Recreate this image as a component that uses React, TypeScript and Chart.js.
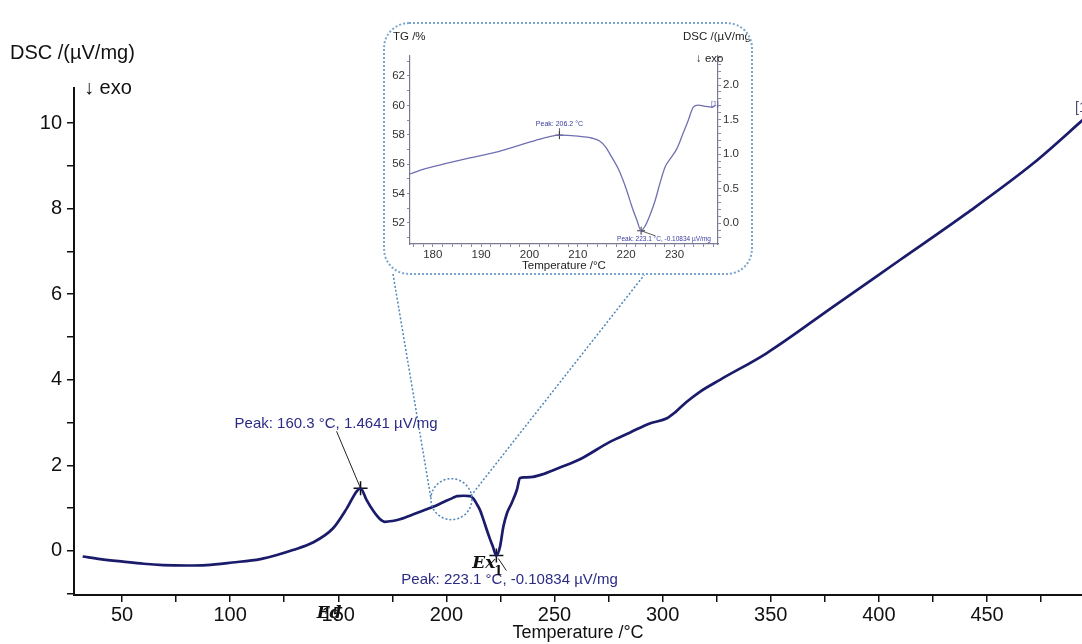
import React, { useEffect, useRef } from 'react';
import { Chart, registerables } from 'chart.js';

Chart.register(...registerables);

const FONT = "Arial, 'Liberation Sans', Helvetica, sans-serif";
const SERIF = "'DejaVu Serif', 'Liberation Serif', serif";

// ---- main DSC curve ----
const mainTemps = [31.8, 40, 50.5, 60, 69, 80, 89, 101, 114, 122, 129, 138, 147.6, 154, 158.6, 160.3, 163, 166, 169, 171.6, 175, 178.5, 186, 193.8, 199, 203, 205, 208, 211, 212.5, 214, 215.5, 217, 218.7, 220, 221.5, 223.1, 224.8, 226.3, 228, 230.2, 232.6, 234, 236, 240, 245, 252.5, 262, 275.6, 285, 294, 302, 306, 311, 317.2, 326.5, 348, 378.9, 409.7, 440.5, 471.4, 496];
const mainDsc = [-0.13, -0.19, -0.25, -0.3, -0.33, -0.34, -0.33, -0.27, -0.19, -0.09, 0.02, 0.19, 0.53, 1.0, 1.4, 1.4641, 1.2, 0.95, 0.76, 0.68, 0.7, 0.74, 0.88, 1.03, 1.15, 1.24, 1.28, 1.29, 1.28, 1.22, 1.1, 0.96, 0.75, 0.49, 0.3, 0.1, -0.10834, 0.1, 0.56, 0.88, 1.12, 1.43, 1.7, 1.72, 1.73, 1.8, 1.95, 2.15, 2.55, 2.77, 2.98, 3.1, 3.25, 3.48, 3.72, 4.0, 4.62, 5.71, 6.8, 7.89, 9.06, 10.15];

const xMajorTicks = [50, 100, 150, 200, 250, 300, 350, 400, 450];
const xMinorTicks = [75, 125, 175, 225, 275, 325, 375, 425, 475];
const yMajorTicks = [0, 2, 4, 6, 8, 10];
const yMinorTicks = [-1, 1, 3, 5, 7, 9];

const peakTemps = [160.3, 223.1];
const peakValues = [1.4641, -0.10834];
const peakLabels = ['Peak: 160.3 °C, 1.4641 µV/mg', 'Peak: 223.1 °C, -0.10834 µV/mg'];

// zoom circle (data coords)
const zoomCenterTemp = 202.3;
const zoomCenterDsc = 1.21;

// ---- inset ----
const insetTemps = [175.1, 178, 182.8, 188, 193.1, 197, 201.3, 204, 206.2, 210, 213, 214.5, 215.7, 217, 218.5, 220, 221.2, 222.2, 223.1, 224, 225, 226, 227, 228.1, 229.4, 230.5, 231.5, 232.8, 233.9, 234.9, 236.5, 237.7, 238.4];
const insetDsc = [0.71, 0.78, 0.865, 0.95, 1.03, 1.11, 1.2, 1.25, 1.275, 1.26, 1.23, 1.19, 1.11, 0.96, 0.77, 0.5, 0.24, 0.05, -0.10834, -0.03, 0.13, 0.33, 0.58, 0.82, 0.96, 1.08, 1.25, 1.48, 1.68, 1.71, 1.69, 1.68, 1.7];
const insetXMajor = [180, 190, 200, 210, 220, 230];
const insetXMinor = [176, 178, 182, 184, 186, 188, 192, 194, 196, 198, 202, 204, 206, 208, 212, 214, 216, 218, 222, 224, 226, 228, 232, 234, 236, 238];
const insetTgMajor = [52, 54, 56, 58, 60, 62];
const insetTgMinor = [51, 53, 55, 57, 59, 61, 63];
const insetDscMajor = [0, 0.5, 1.0, 1.5, 2.0];
const insetDscMinor = [-0.2, -0.1, 0.1, 0.2, 0.3, 0.4, 0.6, 0.7, 0.8, 0.9, 1.1, 1.2, 1.3, 1.4, 1.6, 1.7, 1.8, 1.9, 2.1, 2.2, 2.3, 2.4];
const insetPeakTemps = [206.2, 223.1];
const insetPeakValues = [1.275, -0.10834];
const insetPeakLabels = ['Peak: 206.2 °C', 'Peak: 223.1 °C, -0.10834 µV/mg'];

function setTicks(major: number[], minor: number[]) {
  return (scale: any) => {
    scale.ticks = [...major, ...minor].sort((a, b) => a - b).map((value) => ({ value }));
  };
}
function labelIf(major: number[], fmt: (v: number) => string) {
  return (value: any) => (major.some((m) => Math.abs(m - value) < 1e-9) ? fmt(value) : '');
}

const mainOverlay = {
  id: 'mainOverlay',
  afterDraw(chart: any) {
    const { ctx } = chart;
    const x = chart.scales.x;
    const y = chart.scales.y;
    ctx.save();
    ctx.fillStyle = '#111';
    ctx.textAlign = 'left';
    ctx.textBaseline = 'alphabetic';
    ctx.font = `20px ${FONT}`;
    ctx.fillText('DSC /(µV/mg)', 10, 59);
    ctx.fillText('↓ exo', 84, 94);

    // zoom circle + connectors
    const cx = x.getPixelForValue(zoomCenterTemp);
    const cy = y.getPixelForValue(zoomCenterDsc);
    ctx.strokeStyle = '#4f86b8';
    ctx.lineWidth = 1.5;
    ctx.setLineDash([2, 2]);
    ctx.beginPath();
    ctx.arc(cx, cy, 20.5, 0, Math.PI * 2);
    ctx.stroke();
    ctx.beginPath();
    ctx.moveTo(393, 274);
    ctx.lineTo(cx - 20.5, cy - 1);
    ctx.moveTo(645, 274);
    ctx.lineTo(cx + 20, cy - 4);
    ctx.stroke();
    ctx.setLineDash([]);

    // peak annotations
    ctx.strokeStyle = '#222';
    ctx.lineWidth = 1;
    ctx.font = `15px ${FONT}`;
    ctx.fillStyle = '#2b2b86';
    const p0x = x.getPixelForValue(peakTemps[0]);
    const p0y = y.getPixelForValue(peakValues[0]);
    ctx.fillText(peakLabels[0], p0x - 126, p0y - 60);
    ctx.beginPath();
    ctx.moveTo(p0x - 24, p0y - 57);
    ctx.lineTo(p0x, p0y);
    ctx.stroke();
    const p1x = x.getPixelForValue(peakTemps[1]);
    const p1y = y.getPixelForValue(peakValues[1]);
    ctx.fillText(peakLabels[1], p1x - 95, p1y + 28);
    ctx.beginPath();
    ctx.moveTo(p1x + 2, p1y + 3);
    ctx.lineTo(p1x + 10, p1y + 15);
    ctx.stroke();

    // Ex1 and Ed marks
    ctx.fillStyle = '#111';
    ctx.font = `italic bold 17px ${SERIF}`;
    ctx.fillText('Ex', p1x - 24, p1y + 12);
    ctx.font = `bold 12px ${SERIF}`;
    ctx.fillText('1', p1x - 2, p1y + 19);
    ctx.font = `italic bold 17px ${SERIF}`;
    ctx.textBaseline = 'middle';
    ctx.fillText('Ed', x.getPixelForValue(140), 614);

    // curve label at right
    ctx.textBaseline = 'alphabetic';
    ctx.font = `14px ${FONT}`;
    ctx.fillStyle = '#4a4a7a';
    ctx.fillText('[1]', 1075, 112);
    ctx.restore();
  },
};

const insetOverlay = {
  id: 'insetOverlay',
  afterDraw(chart: any) {
    const { ctx } = chart;
    const x = chart.scales.x;
    const y = chart.scales.yR;
    ctx.save();
    ctx.fillStyle = '#222';
    ctx.textBaseline = 'alphabetic';
    ctx.textAlign = 'left';
    ctx.font = `11.5px ${FONT}`;
    ctx.fillText('TG /%', 8, 16);
    ctx.fillText('DSC /(µV/mg)', 298, 16);
    ctx.fillText('↓ exo', 311, 38);

    ctx.fillStyle = '#3a3aa0';
    ctx.strokeStyle = '#333';
    ctx.lineWidth = 0.8;
    const a0x = x.getPixelForValue(insetPeakTemps[0]);
    const a0y = y.getPixelForValue(insetPeakValues[0]);
    ctx.font = `7px ${FONT}`;
    ctx.textAlign = 'center';
    ctx.fillText(insetPeakLabels[0], a0x, a0y - 9);
    ctx.beginPath();
    ctx.moveTo(a0x, a0y - 7);
    ctx.lineTo(a0x, a0y);
    ctx.stroke();
    const a1x = x.getPixelForValue(insetPeakTemps[1]);
    const a1y = y.getPixelForValue(insetPeakValues[1]);
    ctx.textAlign = 'left';
    ctx.font = `6.5px ${FONT}`;
    ctx.fillText(insetPeakLabels[1], a1x - 24, a1y + 10);
    ctx.beginPath();
    ctx.moveTo(a1x, a1y);
    ctx.lineTo(a1x + 14, a1y + 5);
    ctx.stroke();
    ctx.font = `7px ${FONT}`;
    ctx.fillStyle = '#5a5aa8';
    ctx.fillText('[1]', 326, 82);
    ctx.restore();
  },
};

export default function App() {
  const mainRef = useRef<HTMLCanvasElement>(null);
  const insetRef = useRef<HTMLCanvasElement>(null);

  useEffect(() => {
    document.body.style.margin = '0';
    const mainChart = new Chart(mainRef.current as HTMLCanvasElement, {
      type: 'line',
      data: {
        datasets: [
          {
            data: mainTemps.map((t, i) => ({ x: t, y: mainDsc[i] })),
            borderColor: '#1b1b6b',
            borderWidth: 2.7,
            pointRadius: 0,
            cubicInterpolationMode: 'monotone',
          },
          {
            type: 'scatter',
            data: peakTemps.map((t, i) => ({ x: t, y: peakValues[i] })),
            pointStyle: 'cross',
            pointRadius: 7,
            borderColor: '#111',
            borderWidth: 1.5,
          } as any,
        ],
      },
      options: {
        responsive: false,
        animation: false,
        devicePixelRatio: 1,
        layout: { autoPadding: false, padding: { top: 88, left: 0, right: 0, bottom: 0 } },
        plugins: { legend: { display: false }, tooltip: { enabled: false } },
        scales: {
          x: {
            type: 'linear',
            min: 27.8,
            max: 493.9,
            afterFit: (s: any) => { s.height = 49; },
            afterBuildTicks: setTicks(xMajorTicks, xMinorTicks),
            ticks: {
              autoSkip: false,
              maxRotation: 0,
              padding: 1,
              color: '#111',
              font: { family: FONT, size: 20 },
              callback: labelIf(xMajorTicks, (v) => String(v)),
            },
            grid: { drawOnChartArea: false, drawTicks: true, tickLength: 7, color: '#111', lineWidth: 1.5 },
            border: { display: true, color: '#111', width: 2 },
            title: { display: true, text: 'Temperature /°C', color: '#111', font: { family: FONT, size: 18 }, padding: { top: 0, bottom: 0 } },
          },
          y: {
            type: 'linear',
            min: -1.03,
            max: 10.82,
            afterFit: (s: any) => { s.width = 74; },
            afterBuildTicks: setTicks(yMajorTicks, yMinorTicks),
            ticks: {
              autoSkip: false,
              padding: 5,
              color: '#111',
              font: { family: FONT, size: 20 },
              callback: labelIf(yMajorTicks, (v) => String(v)),
            },
            grid: { drawOnChartArea: false, drawTicks: true, tickLength: 7, color: '#111', lineWidth: 1.5 },
            border: { display: true, color: '#111', width: 2 },
          },
        },
      },
      plugins: [mainOverlay],
    } as any);

    const insetChart = new Chart(insetRef.current as HTMLCanvasElement, {
      type: 'line',
      data: {
        datasets: [
          {
            data: insetTemps.map((t, i) => ({ x: t, y: insetDsc[i] })),
            yAxisID: 'yR',
            borderColor: '#6f6fb2',
            borderWidth: 1.3,
            pointRadius: 0,
            cubicInterpolationMode: 'monotone',
          },
          {
            type: 'scatter',
            yAxisID: 'yR',
            data: insetPeakTemps.map((t, i) => ({ x: t, y: insetPeakValues[i] })),
            pointStyle: 'cross',
            pointRadius: 4,
            borderColor: '#333',
            borderWidth: 1,
          } as any,
        ],
      },
      options: {
        responsive: false,
        animation: false,
        devicePixelRatio: 1,
        layout: { autoPadding: false, padding: { top: 32, left: 0, right: 0, bottom: 0 } },
        plugins: { legend: { display: false }, tooltip: { enabled: false } },
        scales: {
          x: {
            type: 'linear',
            min: 175.3,
            max: 239,
            afterFit: (s: any) => { s.height = 29; },
            afterBuildTicks: setTicks(insetXMajor, insetXMinor),
            ticks: {
              autoSkip: false,
              maxRotation: 0,
              padding: 1,
              color: '#333',
              font: { family: FONT, size: 11.5 },
              callback: labelIf(insetXMajor, (v) => String(v)),
            },
            grid: { drawOnChartArea: false, tickLength: 3, color: '#8a8aa8', lineWidth: 1 },
            border: { display: true, color: '#7a7a90', width: 1.2 },
            title: { display: true, text: 'Temperature /°C', color: '#222', font: { family: FONT, size: 11.5 }, padding: { top: 0, bottom: 0 } },
          },
          yL: {
            type: 'linear',
            position: 'left',
            min: 50.57,
            max: 63.36,
            afterFit: (s: any) => { s.width = 25; },
            afterBuildTicks: setTicks(insetTgMajor, insetTgMinor),
            ticks: {
              autoSkip: false,
              padding: 2,
              color: '#333',
              font: { family: FONT, size: 11.5 },
              callback: labelIf(insetTgMajor, (v) => String(v)),
            },
            grid: { drawOnChartArea: false, tickLength: 3, color: '#8a8aa8', lineWidth: 1 },
            border: { display: true, color: '#7a7a90', width: 1.2 },
          },
          yR: {
            type: 'linear',
            position: 'right',
            min: -0.3,
            max: 2.42,
            afterFit: (s: any) => { s.width = 33; },
            afterBuildTicks: setTicks(insetDscMajor, insetDscMinor),
            ticks: {
              autoSkip: false,
              padding: 2,
              color: '#333',
              font: { family: FONT, size: 11.5 },
              callback: labelIf(insetDscMajor, (v) => Number(v).toFixed(1)),
            },
            grid: { drawOnChartArea: false, tickLength: 3, color: '#8a8aa8', lineWidth: 1 },
            border: { display: true, color: '#7a7a90', width: 1.2 },
          },
        },
      },
      plugins: [insetOverlay],
    } as any);

    return () => {
      mainChart.destroy();
      insetChart.destroy();
    };
  }, []);

  return (
    <div style={{ position: 'relative', width: 1082, height: 644, background: '#fff', overflow: 'hidden' }}>
      <canvas ref={mainRef} width={1082} height={644} style={{ position: 'absolute', left: 0, top: 0, width: 1082, height: 644 }} />
      <div
        style={{
          position: 'absolute',
          left: 383,
          top: 22,
          width: 370,
          height: 253,
          boxSizing: 'border-box',
          border: '2px dotted #7aa6cc',
          borderRadius: 26,
          background: '#fff',
          overflow: 'hidden',
        }}
      >
        <canvas ref={insetRef} width={366} height={249} style={{ position: 'absolute', left: 0, top: 0, width: 366, height: 249 }} />
      </div>
    </div>
  );
}
